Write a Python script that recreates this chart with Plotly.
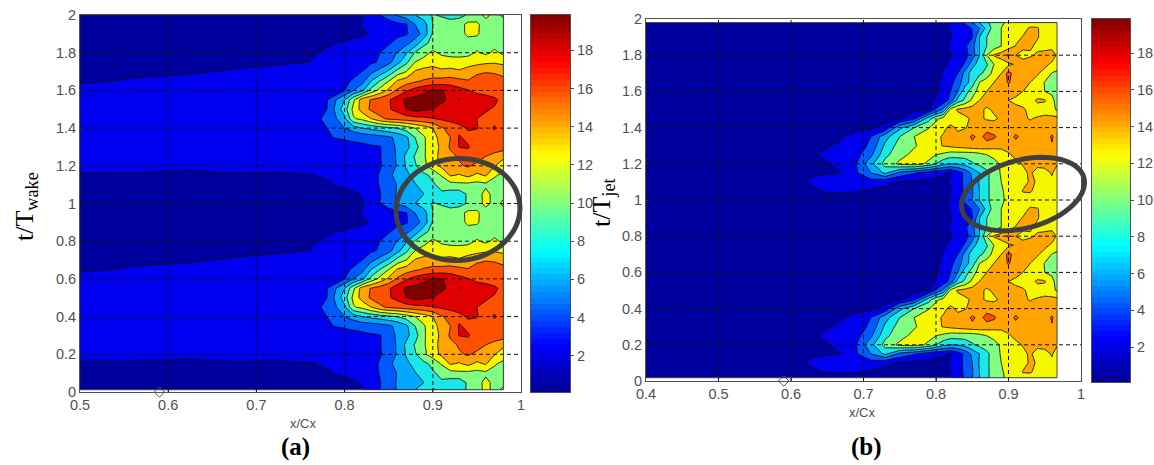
import math
import numpy as np
import plotly.graph_objects as go

W, H = 1154, 465

# ---------- data ----------
x_a = [.50,.56,.62,.68,.72,.76,.78,.80,.81,.82,.83,.84,.85,.86,.87,.88,.89,.90,.91,.92,.93,.94,.95,.96,.97,.98]
# one period (t = 0 ... 0.95, step 0.05); the picture repeats it for t = 1 ... 2
period_a = [
 [1.0,1.0,1.1,1.2,1.2,1.3,1.4,1.6,1.7,1.9,2.6,3.8,4.6,5.8,6.6,7.4,8.4,9.3,9.0,8.3,8.6,9.4,10.2,11.5,10.5,11.3],
 [1.1,1.1,1.2,1.3,1.3,1.4,1.5,1.7,1.8,2.1,2.9,3.7,4.7,5.8,6.4,7.0,7.4,8.6,9.0,8.4,8.2,9.5,10.2,11.6,10.4,10.6],
 [1.4,1.7,1.6,1.7,1.7,1.8,1.9,2.2,2.4,2.7,3.2,3.9,4.8,5.7,6.5,7.3,8.2,9.0,9.6,10.3,10.6,10.5,10.4,10.6,10.4,10.3],
 [1.9,1.9,1.8,1.95,1.85,1.95,2.1,2.3,2.7,3.0,3.4,3.9,5.2,6.2,7.0,8.0,8.8,9.6,11.2,13.0,12.6,13.3,12.4,13.0,11.2,10.6],
 [2.3,2.3,2.2,2.2,2.3,2.4,2.5,2.7,2.9,3.1,3.4,3.7,4.2,5.9,7.6,9.0,10.6,12.0,13.2,13.8,14.4,14.8,14.2,13.5,12.9,11.8],
 [2.5,2.5,2.5,2.6,2.6,2.7,2.8,3.0,3.1,3.3,3.5,3.7,4.5,5.9,7.8,9.4,10.8,12.2,13.3,14.1,14.8,15.5,15.3,14.6,13.6,13.2],
 [2.6,2.7,2.7,2.8,2.8,2.9,3.0,3.2,3.3,3.4,3.6,3.7,4.6,6.0,6.9,8.4,10.8,12.0,13.2,14.9,16.5,16.6,15.4,15.6,16.2,15.5],
 [2.9,3.0,3.0,3.1,3.2,3.4,3.7,4.0,4.2,4.4,4.6,4.9,5.3,6.0,7.0,9.2,10.8,12.2,13.4,14.6,16.6,15.9,15.6,15.8,15.7,15.5],
 [3.0,3.1,3.2,3.3,3.4,3.6,3.8,5.6,6.5,7.4,7.9,8.3,8.8,9.2,10.1,11.0,11.9,12.8,14.4,15.2,15.9,16.6,16.5,15.8,16.6,15.5],
 [3.1,3.2,3.3,3.4,3.5,3.6,3.9,7.0,10.8,11.5,12.8,14.2,14.9,15.2,15.5,15.8,16.0,16.3,16.7,17.0,17.2,17.0,16.4,16.0,15.9,15.6],
 [3.2,3.3,3.4,3.5,3.6,3.7,3.8,8.4,11.5,13.6,14.9,15.5,16.2,17.0,18.2,18.8,18.5,18.2,17.5,17.6,17.4,17.3,17.1,16.6,16.2,15.9],
 [3.1,3.2,3.3,3.4,3.5,3.6,3.7,7.4,10.6,13.8,14.7,15.4,16.2,17.4,18.6,18.7,18.9,19.4,18.6,17.8,16.3,17.6,17.4,17.2,16.8,15.8],
 [2.5,2.6,2.7,2.8,2.9,3.1,3.4,3.8,5.6,7.0,9.8,11.6,13.2,14.9,16.2,17.1,17.8,18.4,18.3,17.7,17.0,16.5,15.9,15.6,15.2,15.5],
 [1.8,2.1,2.2,2.3,2.4,2.6,2.9,3.3,4.1,5.0,7.4,9.2,11.0,13.0,13.7,14.3,14.8,15.1,15.3,15.4,15.1,14.7,15.8,16.2,15.7,15.3],
 [1.6,1.8,1.9,2.1,2.2,2.3,2.5,2.8,3.0,3.8,5.1,6.3,7.8,9.9,11.0,13.0,13.4,13.5,13.1,13.3,13.0,13.6,14.0,14.4,14.3,13.8],
 [1.5,1.6,1.7,1.8,1.9,2.0,2.2,2.5,2.6,3.0,3.5,4.0,5.0,6.8,8.8,11.0,11.8,12.2,12.0,11.9,11.9,12.0,12.3,12.5,12.6,12.4],
 [1.4,1.5,1.6,1.6,1.7,1.9,2.1,2.3,2.5,2.7,3.0,3.8,4.8,5.7,7.2,9.4,10.3,11.4,10.6,10.3,10.2,10.4,11.2,10.6,11.4,10.6],
 [1.3,1.3,1.4,1.4,1.5,1.6,1.9,2.1,2.3,2.5,2.8,3.2,3.6,4.4,5.2,6.4,8.8,9.7,10.0,10.1,10.1,10.2,10.3,10.4,10.3,10.2],
 [1.1,1.1,1.2,1.2,1.3,1.3,1.4,1.5,1.7,1.8,2.1,2.4,2.9,3.4,3.6,4.8,6.3,9.4,10.0,10.1,10.3,11.4,11.2,10.3,10.1,10.0],
 [1.0,1.0,1.1,1.1,1.2,1.2,1.3,1.4,1.5,2.1,2.3,2.7,3.0,3.4,3.7,5.6,6.6,9.2,10.0,10.2,10.3,11.5,11.3,10.2,10.6,10.2],
]
x_b = [.40,.50,.60,.63,.65,.67,.69,.71,.73,.75,.77,.79,.80,.81,.82,.83,.84,.85,.86,.87,.88,.89,.90,.91,.92,.93,.94,.95,.96,.967]
period_b = [
 [1.0,1.0,1.0,1.0,1.0,1.0,1.1,1.1,1.1,1.2,1.2,1.3,1.4,1.6,2.2,2.8,4.1,5.6,7.4,8.9,9.9,10.7,11.4,11.8,12.1,12.0,12.0,12.0,12.1,12.0],
 [1.0,1.1,1.2,1.7,2.2,2.2,2.1,1.8,1.5,1.3,1.3,1.4,1.5,1.7,1.9,2.9,4.2,5.4,7.4,8.8,10.0,10.8,11.5,12.0,12.9,13.0,12.2,12.0,12.3,12.0],
 [1.1,1.2,1.4,2.3,2.6,2.7,2.8,3.0,2.4,1.9,1.6,1.6,1.7,1.8,2.1,3.0,4.2,5.6,7.6,8.9,9.9,11.0,11.5,12.0,12.3,13.0,12.7,12.4,12.6,12.0],
 [1.2,1.3,1.5,1.8,1.9,2.0,3.6,5.6,7.8,5.0,4.0,2.8,2.3,2.1,1.9,2.8,4.3,6.0,7.4,8.8,10.0,11.2,11.8,12.1,12.5,13.0,12.2,12.4,12.9,12.3],
 [1.2,1.3,1.6,1.7,1.9,2.4,3.8,6.8,9.9,11.4,11.8,10.6,9.2,8.0,7.4,7.6,8.0,9.0,9.6,10.0,10.5,11.2,11.8,12.4,12.9,13.0,13.2,13.2,13.1,12.9],
 [1.2,1.3,1.7,1.9,2.2,2.6,3.2,5.2,8.7,10.4,11.5,11.6,11.0,10.6,10.0,10.0,10.0,10.0,10.4,11.0,11.4,11.8,12.6,13.2,13.4,13.5,13.4,13.5,13.6,13.3],
 [1.1,1.2,1.4,1.6,1.9,2.2,2.8,4.2,7.8,10.0,10.8,12.0,12.4,12.9,13.2,13.5,13.7,14.0,14.0,13.8,13.5,13.4,13.4,13.7,13.6,13.5,13.4,13.5,14.4,13.4],
 [1.0,1.1,1.2,1.3,1.5,1.9,2.6,3.8,6.7,9.2,11.0,12.0,12.4,13.0,12.9,13.2,13.6,15.0,14.0,15.3,14.9,13.8,13.6,15.0,13.8,13.6,13.5,13.4,14.9,13.4],
 [1.0,1.0,1.1,1.1,1.2,1.3,1.4,1.6,2.6,6.9,9.2,10.9,11.8,12.4,13.2,12.5,12.7,13.2,14.6,13.9,13.4,13.4,13.4,13.5,13.4,13.3,13.2,13.3,13.4,13.3],
 [1.0,1.0,1.0,1.0,1.1,1.1,1.2,1.3,1.4,1.7,3.5,8.4,10.6,11.6,11.9,12.2,12.5,13.0,13.1,12.6,12.6,13.0,13.4,13.4,13.0,12.7,13.0,13.4,13.4,13.3],
 [1.0,1.0,1.0,1.0,1.0,1.1,1.1,1.1,1.2,1.3,1.5,1.8,4.0,6.0,11.6,13.0,13.4,13.6,13.1,12.6,13.0,13.2,13.3,13.3,13.0,12.4,12.0,11.8,11.4,10.8],
 [1.0,1.0,1.0,1.0,1.0,1.0,1.0,1.1,1.1,1.2,1.3,1.6,2.1,2.8,4.4,8.1,9.6,11.4,12.8,13.4,13.6,14.2,12.8,12.4,12.2,12.2,13.1,13.0,11.3,10.6],
 [1.0,1.0,1.0,1.0,1.0,1.0,1.0,1.0,1.1,1.1,1.2,1.4,1.8,2.8,3.8,5.6,8.4,10.1,11.8,12.8,13.2,13.5,13.6,13.4,12.8,12.2,11.6,11.0,10.8,10.6],
 [1.0,1.0,1.0,1.0,1.0,1.0,1.0,1.0,1.0,1.0,1.1,1.3,1.6,2.3,3.2,4.8,6.5,8.3,11.0,12.0,12.8,13.6,14.8,13.6,13.2,12.8,12.0,10.9,10.5,10.3],
 [1.0,1.0,1.0,1.0,1.0,1.0,1.0,1.0,1.0,1.0,1.0,1.2,1.5,2.1,3.0,3.8,6.2,8.4,8.8,9.8,11.8,12.8,15.3,13.6,13.6,13.4,13.0,12.2,10.9,10.6],
 [1.0,1.0,1.0,1.0,1.0,1.0,1.0,1.0,1.0,1.0,1.0,1.1,1.4,1.7,2.3,3.0,4.0,6.6,8.3,9.0,11.0,11.8,12.4,13.0,13.3,13.6,13.8,13.2,12.5,12.0],
 [1.0,1.0,1.0,1.0,1.0,1.0,1.0,1.0,1.0,1.0,1.0,1.1,1.3,1.6,1.9,2.6,3.2,4.6,7.4,11.0,13.0,13.6,15.0,12.8,12.4,12.6,13.0,13.4,13.6,12.6],
 [1.0,1.0,1.0,1.0,1.0,1.0,1.0,1.0,1.0,1.0,1.0,1.1,1.3,1.6,2.2,2.6,3.4,5.0,7.4,9.2,10.1,11.0,11.9,12.9,13.1,13.0,12.5,12.2,12.3,12.2],
 [1.0,1.0,1.0,1.0,1.0,1.0,1.0,1.0,1.0,1.0,1.0,1.1,1.3,1.6,1.9,2.5,3.1,3.7,7.4,9.2,10.1,11.0,11.8,12.3,12.9,13.1,12.9,12.3,12.0,12.2],
 [1.0,1.0,1.0,1.0,1.0,1.0,1.0,1.0,1.0,1.0,1.0,1.1,1.3,1.6,2.1,2.5,3.1,3.9,5.6,8.0,10.0,11.0,11.6,12.0,12.3,13.0,12.9,12.2,12.1,12.0],
]
t_period = [0,.05,.1,.15,.2,.25,.3,.35,.4,.45,.5,.55,.6,.65,.7,.75,.8,.85,.9,.95]
t_a = [0.012] + t_period[1:] + [1 + v for v in t_period] + [2.0]
t_b = [0.018] + t_period[1:] + [1 + v for v in t_period] + [1.98]
z_a = period_a + period_a + [period_a[0]]
z_b = period_b + period_b + [period_b[0]]

x_ticks_a = [.5,.6,.7,.8,.9,1]
x_ticks_b = [.4,.5,.6,.7,.8,.9,1]
y_ticks = [0,.2,.4,.6,.8,1,1.2,1.4,1.6,1.8,2]
y_labels = ["0","0.2","0.4","0.6","0.8","1","1.2","1.4","1.6","1.8","2"]
x_labels_a = ["0.5","0.6","0.7","0.8","0.9","1"]
x_labels_b = ["0.4","0.5","0.6","0.7","0.8","0.9","1"]
cb_ticks = [2,4,6,8,10,12,14,16,18]

band_colors = ['#00009f','#0000f0','#0058ff','#00a8ff','#18e8e8','#80ff80',
               '#f6f800','#ffa400','#ff5000','#e00000','#800000']
jet = [[0,'#00008f'],[.125,'#0000ff'],[.375,'#00ffff'],[.625,'#ffff00'],[.875,'#ff0000'],[1,'#800000']]

# ---------- style ----------
GRAY = '#505050'
SANS = 'Liberation Sans'
SERIF = 'Liberation Serif'
nb = len(band_colors)
band_scale = []
for i, c in enumerate(band_colors):
    band_scale += [[i / nb, c], [(i + 1) / nb, c]]

def dom_x(a, b):
    return [a / W, b / W]
def dom_y(top, bottom):
    return [1 - bottom / H, 1 - top / H]

fig = go.Figure()

def contour(x, t, z, xa, ya):
    fig.add_trace(go.Contour(
        x=x, y=t, z=z, xaxis=xa, yaxis=ya, showscale=False, hoverinfo='skip',
        colorscale=band_scale, zauto=False, zmin=0.2, zmax=20, autocontour=False,
        contours=dict(start=2, end=18.2, size=1.8, coloring='fill'),
        line=dict(color='#101010', width=0.9, smoothing=0)))

contour(x_a, t_a, z_a, 'x', 'y')
contour(x_b, t_b, z_b, 'x2', 'y2')

# colour bars
cb_levels = np.linspace(0.1, 19.85, 65)
cb_mid = (cb_levels[:-1] + cb_levels[1:]) / 2
for xa, ya in (('x3', 'y3'), ('x4', 'y4')):
    fig.add_trace(go.Heatmap(x=[0, 1], y=cb_levels, z=[[v, v] for v in cb_mid], xaxis=xa, yaxis=ya,
                             colorscale=jet, zmin=0.1, zmax=19.85, showscale=False, hoverinfo='skip'))

# open diamond on the axis
for xa, ya in (('x', 'y'), ('x2', 'y2')):
    fig.add_trace(go.Scatter(x=[.59], y=[0], xaxis=xa, yaxis=ya, mode='markers', cliponaxis=False,
                             hoverinfo='skip', showlegend=False,
                             marker=dict(symbol='diamond-open', size=8, color=GRAY, line=dict(width=1, color=GRAY))))

tickfont = dict(family=SANS, size=14.5, color=GRAY)

def main_axes(xn, yn, xd, yd, xr, xt, xl):
    fig.update_layout({
        xn: dict(domain=xd, range=xr, tickmode='array', tickvals=xt, ticktext=xl, ticks='inside', ticklen=3,
                 tickcolor=GRAY, showgrid=False, zeroline=False, showline=True, mirror=True,
                 linecolor=GRAY, linewidth=1, tickfont=tickfont, layer='above traces',
                 anchor=yn.replace('axis', ''), automargin=False),
        yn: dict(domain=yd, range=[0, 2], tickmode='array', tickvals=y_ticks, ticktext=y_labels, ticks='inside', ticklen=3,
                 tickcolor=GRAY, showgrid=False, zeroline=False, showline=True, mirror=True,
                 linecolor=GRAY, linewidth=1, tickfont=tickfont, layer='above traces',
                 anchor=xn.replace('axis', ''), automargin=False),
    })

main_axes('xaxis', 'yaxis', dom_x(80, 521), dom_y(15, 392), [.5, 1], x_ticks_a, x_labels_a)
main_axes('xaxis2', 'yaxis2', dom_x(646, 1081), dom_y(19, 381), [.4, 1], x_ticks_b, x_labels_b)

def cb_axes(xn, yn, xd, yd):
    fig.update_layout({
        xn: dict(domain=xd, range=[0, 1], showticklabels=False, ticks='', showgrid=False, zeroline=False,
                 showline=True, mirror=True, linecolor=GRAY, linewidth=1,
                 anchor=yn.replace('axis', '')),
        yn: dict(domain=yd, range=[0.1, 19.85], side='right', tickmode='array', tickvals=cb_ticks,
                 ticks='outside', ticklen=3, tickcolor=GRAY, showgrid=False, zeroline=False,
                 showline=True, mirror=True, linecolor=GRAY, linewidth=1, tickfont=tickfont,
                 anchor=xn.replace('axis', '')),
    })

cb_axes('xaxis3', 'yaxis3', dom_x(531, 570), dom_y(15, 392))
cb_axes('xaxis4', 'yaxis4', dom_x(1092, 1130), dom_y(19, 382))

# dashed grid over the contours, thin outline round the measured area
shapes = []
grid = dict(color='#101010', width=1, dash='4px,3px')
for xr, yr, xt, x0, xs, ts in (('x', 'y', x_ticks_a, .5, x_a, t_a), ('x2', 'y2', x_ticks_b, .4, x_b, t_b)):
    for v in xt[1:-1]:
        shapes.append(dict(type='line', xref=xr, yref=yr, x0=v, x1=v, y0=0, y1=2, line=grid, layer='above'))
    for v in y_ticks[1:-1]:
        shapes.append(dict(type='line', xref=xr, yref=yr, x0=x0, x1=1, y0=v, y1=v, line=grid, layer='above'))
    shapes.append(dict(type='rect', xref=xr, yref=yr, x0=xs[0], x1=xs[-1], y0=ts[0], y1=ts[-1],
                       line=dict(color='#202020', width=0.8), layer='above'))

def ellipse(cx, cy, rx, ry, deg):
    a = math.radians(deg)
    pts = []
    for i in range(72):
        s = 2 * math.pi * i / 72
        ex, ey = rx * math.cos(s), ry * math.sin(s)
        px = cx + ex * math.cos(a) - ey * math.sin(a)
        py = cy + ex * math.sin(a) + ey * math.cos(a)
        pts.append(f"{px / W:.5f},{1 - py / H:.5f}")
    return "M" + " L".join(pts) + " Z"

for spec in ((458, 209.5, 62, 51, -4), (1023, 194, 63, 34, -15)):
    shapes.append(dict(type='path', xref='paper', yref='paper', path=ellipse(*spec),
                       line=dict(color='#404040', width=5), fillcolor='rgba(0,0,0,0)', layer='above'))

def note(x, y, text, **font):
    return dict(xref='paper', yref='paper', x=x / W, y=1 - y / H, text=text, showarrow=False,
                xanchor='center', yanchor='middle', font=font)

notes = [
    note(303, 423, 'x/Cx', family=SANS, size=13, color=GRAY),
    note(862, 412, 'x/Cx', family=SANS, size=13, color=GRAY),
    note(295, 447, '<b>(a)</b>', family=SERIF, size=25, color='#000000'),
    note(866, 447, '<b>(b)</b>', family=SERIF, size=25, color='#000000'),
]
for xp, yp, txt in ((26, 207, 't/T<sub>wake</sub>'), (603, 203, 't/T<sub>jet</sub>')):
    n = note(xp, yp, txt, family=SERIF, size=26, color='#000000')
    n['textangle'] = -90
    notes.append(n)

fig.update_layout(width=W, height=H, margin=dict(l=0, r=0, t=0, b=0), paper_bgcolor='white',
                  plot_bgcolor='white', showlegend=False, shapes=shapes, annotations=notes)

# the page's default 8 px body margin would push the fixed-size figure out of the window
fig.write_html("out.html", config=dict(displayModeBar=False),
               post_script="document.body.style.margin='0';")
